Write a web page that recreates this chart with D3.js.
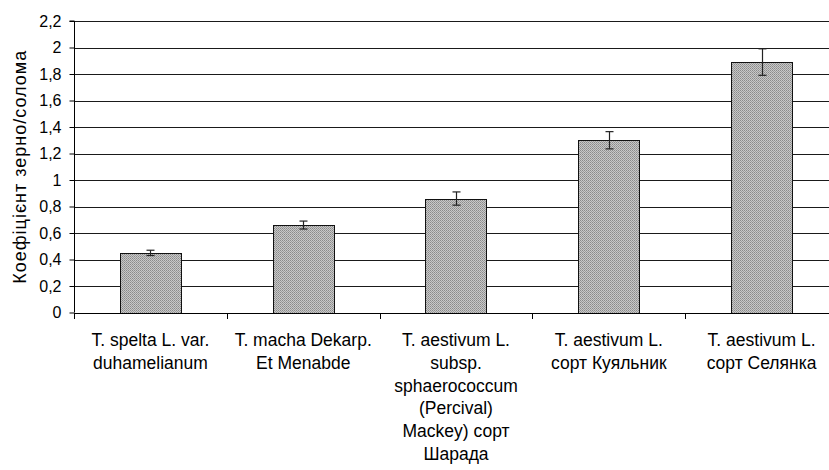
<!DOCTYPE html>
<html>
<head>
<meta charset="utf-8">
<script src="https://cdn.jsdelivr.net/npm/d3@7/dist/d3.min.js"></script>
<style>
  html, body { margin: 0; padding: 0; background: #fff; }
  svg { display: block; font-family: "Liberation Sans", Arial, sans-serif; }
</style>
</head>
<body>
<svg id="chart" width="829" height="470"></svg>
<script>
// Grain/straw ratio for five wheat forms, with error margins
const categories = [
  ["T. spelta L. var.", "duhamelianum"],
  ["T. macha Dekarp.", "Et Menabde"],
  ["T. aestivum L.", "subsp.", "sphaerococcum", "(Percival)", "Mackey) сорт", "Шарада"],
  ["T. aestivum L.", "сорт Куяльник"],
  ["T. aestivum L.", "сорт Селянка"]
];
const values = [0.45, 0.66, 0.86, 1.30, 1.89];
const errors = [0.02, 0.03, 0.05, 0.065, 0.10];
const yTicks = [0, 0.2, 0.4, 0.6, 0.8, 1, 1.2, 1.4, 1.6, 1.8, 2, 2.2];
const yTitle = "Коефіцієнт зерно/солома";

const svg = d3.select("#chart");
const plotLeft = 74, plotRight = 838, plotTop = 21, plotBottom = 312.5;

const ids = categories.map((c, i) => i);
const x = d3.scaleBand().domain(ids).range([plotLeft, plotRight])
  .paddingInner(0.6).paddingOuter(0.3);
const step = x.step();
const y = d3.scaleLinear().domain([0, 2.2]).range([plotBottom, plotTop]);

// dithered grey fill for the bars
const defs = svg.append("defs");
const pat = defs.append("pattern").attr("id", "dither")
  .attr("patternUnits", "userSpaceOnUse").attr("width", 2).attr("height", 2);
pat.append("rect").attr("width", 2).attr("height", 2).attr("fill", "#c8c8c8");
pat.append("rect").attr("width", 1).attr("height", 1).attr("fill", "#8a8a8a");
pat.append("rect").attr("x", 1).attr("y", 1).attr("width", 1).attr("height", 1).attr("fill", "#9c9c9c");

// horizontal gridlines
svg.append("g").selectAll("line").data(yTicks.filter(d => d > 0)).join("line")
  .attr("x1", plotLeft).attr("x2", plotRight)
  .attr("y1", d => Math.round(y(d)) + 0.5).attr("y2", d => Math.round(y(d)) + 0.5)
  .attr("stroke", "#1a1a1a").attr("stroke-width", 1);

// bars
svg.append("g").selectAll("rect").data(values).join("rect")
  .attr("x", (d, i) => Math.round(x(i)) + 0.5)
  .attr("y", d => Math.round(y(d)) + 0.5)
  .attr("width", Math.round(x.bandwidth()))
  .attr("height", d => Math.round(y(0)) - Math.round(y(d)))
  .attr("fill", "url(#dither)")
  .attr("stroke", "#111").attr("stroke-width", 1);

// error bars
const eg = svg.append("g").attr("stroke", "#222").attr("stroke-width", 1.2);
values.forEach((v, i) => {
  const cx = Math.round(x(i) + x.bandwidth() / 2) + 0.5;
  const y1 = y(v + errors[i]), y2 = y(v - errors[i]);
  eg.append("line").attr("x1", cx).attr("x2", cx).attr("y1", y1).attr("y2", y2);
  eg.append("line").attr("x1", cx - 4).attr("x2", cx + 4).attr("y1", y1).attr("y2", y1);
  eg.append("line").attr("x1", cx - 4).attr("x2", cx + 4).attr("y1", y2).attr("y2", y2);
});

// y axis
const yAxis = d3.axisLeft(y).tickValues(yTicks).tickSize(5).tickPadding(8)
  .tickFormat(d => d3.format(".1~f")(d).replace(".", ","));
const ya = svg.append("g").attr("transform", `translate(${plotLeft + 0.5},0)`).call(yAxis);
ya.select(".domain").attr("stroke", "#000").attr("d", `M-5,${plotTop}H0V${plotBottom}`);
ya.selectAll(".tick line").attr("stroke", "#000");
ya.selectAll(".tick text").attr("fill", "#000").attr("font-size", 16)
  .attr("font-family", "Liberation Sans, Arial, sans-serif");

// x axis baseline and category boundary ticks
const xb = svg.append("g").attr("stroke", "#000").attr("stroke-width", 1);
xb.append("line").attr("x1", plotLeft).attr("x2", plotRight)
  .attr("y1", Math.round(plotBottom) + 0.5).attr("y2", Math.round(plotBottom) + 0.5);
d3.range(categories.length + 1).forEach(k => {
  const tx = Math.round(plotLeft + k * step) + 0.5;
  xb.append("line").attr("x1", tx).attr("x2", tx)
    .attr("y1", Math.round(plotBottom)).attr("y2", Math.round(plotBottom) + 6);
});

// category labels
const lg = svg.append("g").attr("font-size", 17.5).attr("fill", "#000").attr("text-anchor", "middle");
categories.forEach((lines, i) => {
  const cx = x(i) + x.bandwidth() / 2;
  const t = lg.append("text").attr("x", cx).attr("y", 346);
  lines.forEach((ln, j) => {
    t.append("tspan").attr("x", cx).attr("dy", j === 0 ? 0 : 22.8).text(ln);
  });
});

// y axis title
svg.append("text")
  .attr("transform", `translate(26,${(plotTop + plotBottom) / 2}) rotate(-90)`)
  .attr("text-anchor", "middle").attr("font-size", 18).attr("letter-spacing", 1)
  .attr("fill", "#000")
  .text(yTitle);
</script>
</body>
</html>
